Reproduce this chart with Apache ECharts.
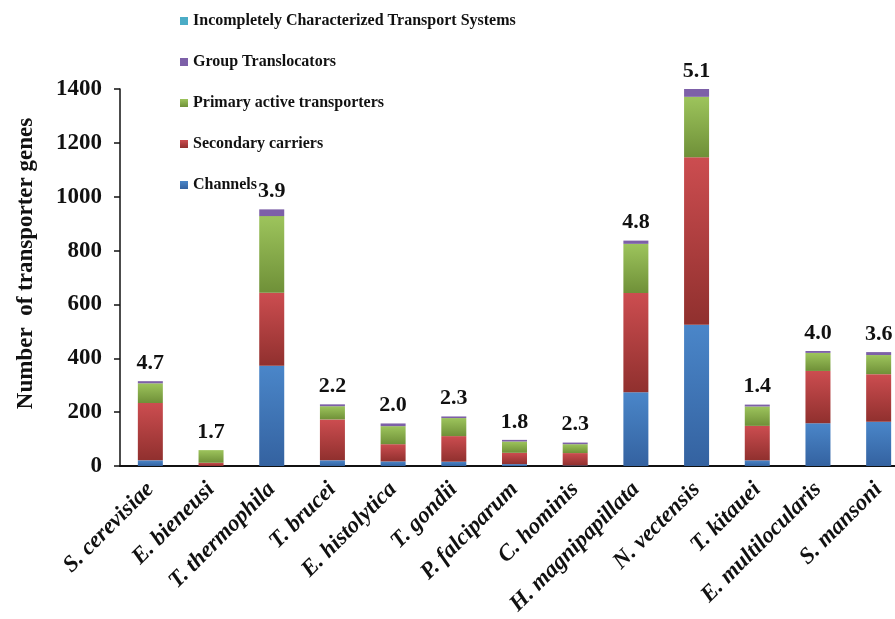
<!DOCTYPE html>
<html>
<head>
<meta charset="utf-8">
<script src="https://cdn.jsdelivr.net/npm/echarts@6/dist/echarts.min.js"></script>
<style>
  html, body { margin: 0; padding: 0; background: #fff; }
  #chart { width: 895px; height: 619px; }
</style>
</head>
<body>
<div id="chart"></div>
<script>
// Species on the x axis
var categories = ['S. cerevisiae', 'E. bieneusi', 'T. thermophila', 'T. brucei', 'E. histolytica',
  'T. gondii', 'P. falciparum', 'C. hominis', 'H. magnipapillata', 'N. vectensis',
  'T. kitauei', 'E. multilocularis', 'S. mansoni'];

// Transporter gene counts per class
var channels   = [21, 0, 372, 21, 17, 16, 7, 2, 274, 525, 21, 159, 164];
var secondary  = [213, 12, 271, 152, 64, 95, 42, 46, 368, 622, 128, 194, 177];
var primary    = [73, 47, 285, 49, 67, 67, 42, 33, 183, 224, 72, 67, 71];
var groupTrans = [8, 0, 25, 7, 10, 6, 6, 6, 12, 29, 7, 7, 11];
var incomplete = [0, 0, 0, 0, 0, 0, 0, 0, 0, 0, 0, 0, 0];

// Numbers printed above each stack
var topLabels = ['4.7', '1.7', '3.9', '2.2', '2.0', '2.3', '1.8', '2.3', '4.8', '5.1', '1.4', '4.0', '3.6'];

// Y axis ticks
var yTicks = [0, 200, 400, 600, 800, 1000, 1200, 1400];

var serif = '"Liberation Serif", "Times New Roman", serif';

function grad(top, bottom) {
  return new echarts.graphic.LinearGradient(0, 0, 0, 1, [
    { offset: 0, color: top },
    { offset: 1, color: bottom }
  ]);
}

function barSeries(name, data, color) {
  return {
    name: name,
    type: 'bar',
    stack: 'total',
    barWidth: 25,
    data: data,
    itemStyle: { color: color },
    emphasis: { disabled: true }
  };
}

var chart = echarts.init(document.getElementById('chart'));

var series = [
  barSeries('Channels', channels, grad('#4a86c9', '#3462a0')),
  barSeries('Secondary carriers', secondary, grad('#cc4d50', '#90302e')),
  barSeries('Primary active transporters', primary, grad('#9dc45c', '#6f9038')),
  barSeries('Group Translocators', groupTrans, '#7d60a8'),
  barSeries('Incompletely Characterized Transport Systems', incomplete, '#4bacc6')
];

// Values written above the top of each stack
series[4].label = {
  show: true,
  position: 'top',
  distance: 7,
  formatter: function (p) { return topLabels[p.dataIndex]; },
  fontFamily: serif,
  fontWeight: 'bold',
  fontSize: 22,
  color: '#111'
};

chart.setOption({
  animation: false,
  backgroundColor: '#ffffff',
  legend: {
    orient: 'vertical',
    left: 180,
    top: 11,
    padding: 0,
    itemWidth: 8,
    itemHeight: 8,
    itemGap: 21,
    icon: 'rect',
    data: ['Incompletely Characterized Transport Systems', 'Group Translocators',
      'Primary active transporters', 'Secondary carriers', 'Channels'],
    textStyle: {
      fontFamily: serif,
      fontWeight: 'bold',
      fontSize: 16,
      lineHeight: 20,
      color: '#111'
    }
  },
  // The last category runs past the right edge of the canvas
  grid: { left: 120, right: -14, top: 89, bottom: 153, outerBoundsMode: 'none', containLabel: false },
  xAxis: {
    type: 'category',
    data: categories,
    axisLine: { lineStyle: { color: '#111', width: 2 } },
    axisTick: { show: false },
    axisLabel: {
      rotate: 45,
      interval: 0,
      margin: 20,
      fontFamily: serif,
      fontWeight: 'bold',
      fontStyle: 'italic',
      fontSize: 23,
      color: '#111'
    }
  },
  yAxis: {
    type: 'value',
    min: yTicks[0],
    max: yTicks[yTicks.length - 1],
    interval: 200,
    name: 'Number  of transporter genes',
    nameLocation: 'middle',
    nameGap: 82,
    nameTextStyle: {
      fontFamily: serif,
      fontWeight: 'bold',
      fontSize: 23,
      color: '#111',
      padding: [0, 0, 0, 28]
    },
    axisLine: { show: true, lineStyle: { color: '#111', width: 1.5 } },
    axisTick: { show: true, length: 6, lineStyle: { color: '#111', width: 1.5 } },
    splitLine: { show: false },
    axisLabel: {
      margin: 18,
      formatter: function (v) { return String(v); },
      fontFamily: serif,
      fontWeight: 'bold',
      fontSize: 23,
      color: '#111'
    }
  },
  series: series
});
</script>
</body>
</html>
